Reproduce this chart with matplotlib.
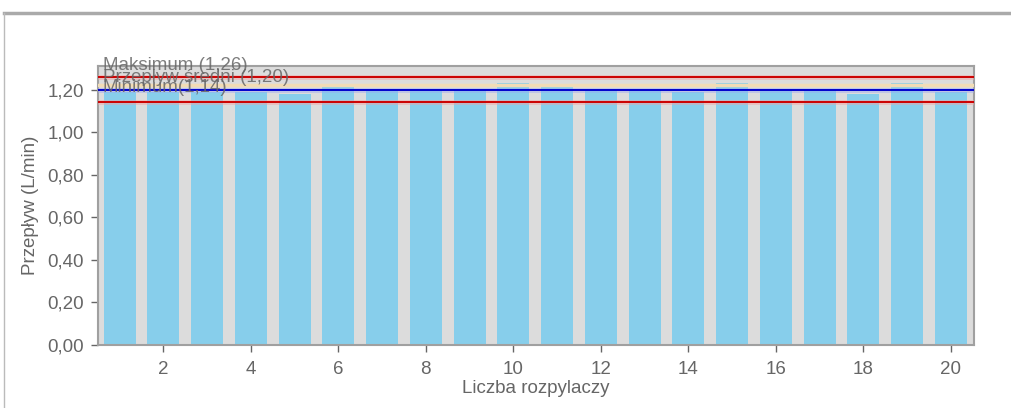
import matplotlib.pyplot as plt
from matplotlib.lines import Line2D
from matplotlib.ticker import FuncFormatter

plt.rcParams['font.family'] = ['Liberation Sans', 'DejaVu Sans']

# dane
rozpylacze = list(range(1, 21))
przeplyw = [1.19, 1.19, 1.19, 1.19, 1.18, 1.22, 1.20, 1.20, 1.20, 1.23,
            1.22, 1.20, 1.20, 1.19, 1.23, 1.20, 1.20, 1.18, 1.23, 1.19]
maksimum = 1.26
srednia = 1.20
minimum = 1.14
pasmo = 1.22
etykiety = ["Maksimum (1,26)", "Przepływ średni (1,20)", "Minimum(1,14)"]
etykiety_y = [1.293, 1.238, 1.191]

fig = plt.figure(figsize=(10.12, 4.08), dpi=100)
ax = fig.add_axes([0.0965, 0.155, 0.866, 0.684])

# ramka wokół wykresu
fig.add_artist(Line2D([0.004, 1.0], [0.968, 0.968], transform=fig.transFigure,
                      color='#aaaaaa', lw=2.5))
fig.add_artist(Line2D([0.0035, 0.0035], [0.0, 0.968], transform=fig.transFigure,
                      color='#bbbbbb', lw=1))

ax.set_facecolor('#dcdcdc')
ax.bar(rozpylacze, przeplyw, width=0.73, color='#87ceeb', zorder=2)

# linie odniesienia z poświatą
ax.axhline(pasmo, color='#f2dcb5', lw=2.5, zorder=3)
for v, c, halo in [(maksimum, '#cc0000', '#f4a0a0'),
                   (minimum, '#cc0000', '#f4a0a0'),
                   (srednia, '#0000cc', '#9aa8f0')]:
    ax.axhline(v, color=halo, lw=3.5, alpha=0.45, zorder=3)
    ax.axhline(v, color=c, lw=1.4, zorder=4)

for t, y in zip(etykiety, etykiety_y):
    ax.text(0.62, y, t, fontsize=13.5, color='#666666', alpha=0.85,
            va='baseline', ha='left', zorder=5, clip_on=False)

ax.set_xlim(0.5, 20.53)
ax.set_ylim(0, 1.313)
ax.set_xticks(range(2, 21, 2))
ax.set_yticks([0, 0.2, 0.4, 0.6, 0.8, 1.0, 1.2])
ax.yaxis.set_major_formatter(FuncFormatter(lambda v, p: f"{v:.2f}".replace('.', ',')))

for s in ax.spines.values():
    s.set_color('#a0a0a0')
    s.set_linewidth(1.5)
ax.tick_params(colors='#666666', labelsize=13.5, length=5, width=1)
ax.tick_params(axis='y', pad=5)
ax.tick_params(axis='x', pad=7)

ax.set_xlabel("Liczba rozpylaczy", fontsize=13.5, color='#666666', labelpad=1)
ax.set_ylabel("Przepływ (L/min)", fontsize=13.5, color='#666666', labelpad=6)

fig.savefig("out.png", dpi=100)
